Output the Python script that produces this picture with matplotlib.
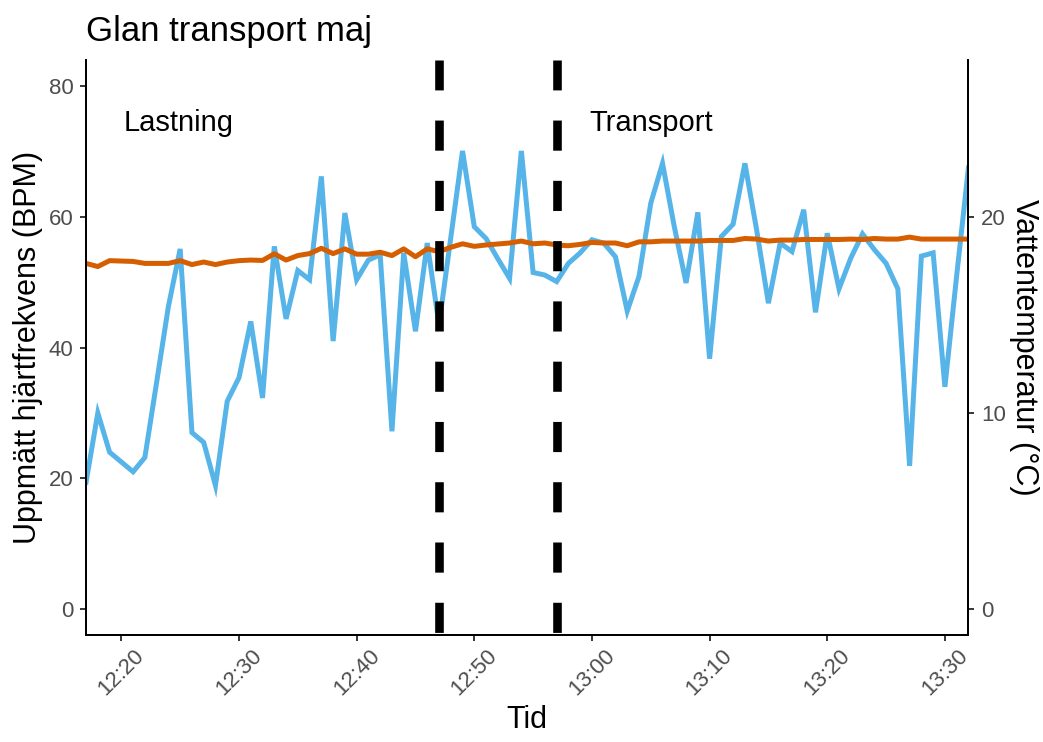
import matplotlib.pyplot as plt
import matplotlib.dates as mdates
import pandas as pd

plt.rcParams['font.family'] = ['Liberation Sans', 'DejaVu Sans']

# mätningar varje minut, 12:17 - 13:32
tid = pd.date_range('2021-05-20 12:17', periods=76, freq='min')

puls = [19.4, 30, 24, 22.5, 21, 23.2, 34.7, 46.3, 55.1, 27,
        25.5, 18.9, 31.8, 35.4, 44, 32.3, 55.5, 44.4, 51.8, 50.4,
        66.2, 41, 60.6, 50.4, 53.4, 54.2, 27.2, 54.5, 42.5, 56,
        43.5, 56.8, 70.1, 58.5, 56.7, 53.6, 50.6, 70.1, 51.5, 51.1,
        50.1, 52.9, 54.5, 56.5, 56, 53.9, 45.6, 50.9, 62.1, 68.2,
        58.5, 49.9, 60.7, 38.3, 57, 58.9, 68.2, 58, 46.8, 56,
        54.7, 61.1, 45.4, 57.5, 49, 53.7, 57.4, 55, 52.9, 49,
        21.9, 54, 54.5, 34, 51, 67.5]

temp = [17.63, 17.47, 17.77, 17.75, 17.73, 17.63, 17.63, 17.63, 17.77, 17.57,
        17.70, 17.57, 17.70, 17.77, 17.80, 17.78, 18.12, 17.80, 18.03, 18.13,
        18.40, 18.13, 18.37, 18.10, 18.10, 18.20, 18.03, 18.37, 17.97, 18.37,
        18.23, 18.45, 18.63, 18.50, 18.57, 18.62, 18.67, 18.77, 18.63, 18.67,
        18.57, 18.53, 18.60, 18.70, 18.67, 18.67, 18.53, 18.73, 18.73, 18.77,
        18.77, 18.77, 18.77, 18.80, 18.80, 18.80, 18.90, 18.87, 18.77, 18.82,
        18.82, 18.85, 18.85, 18.85, 18.85, 18.87, 18.85, 18.90, 18.87, 18.87,
        18.97, 18.87, 18.87, 18.87, 18.87, 18.87]

skala = 3  # temperatur -> pulsaxel
faser = [pd.Timestamp('2021-05-20 12:47'), pd.Timestamp('2021-05-20 12:57')]

fig = plt.figure(figsize=(10.43, 7.42), dpi=100)
ax = fig.add_axes([0.0825, 0.144, 0.846, 0.775])

ax.plot(tid, puls, color='#56B4E9', lw=3.6, solid_joinstyle='miter')
ax.plot(tid, [t * skala for t in temp], color='#D55E00', lw=3.6)
for f in faser:
    ax.axvline(f, color='black', lw=6.2, linestyle=(6.7, (3.5, 3.5)))

ax.text(pd.Timestamp('2021-05-20 12:24:50'), 74.3, 'Lastning', fontsize=21,
        ha='center', va='center')
ax.text(pd.Timestamp('2021-05-20 13:05'), 74.3, 'Transport', fontsize=21,
        ha='center', va='center')

ax.set_xlim(tid[0], tid[-1])
ax.set_ylim(-4, 84)
ax.set_yticks([0, 20, 40, 60, 80])
ax.xaxis.set_major_locator(mdates.MinuteLocator(byminute=[0, 10, 20, 30, 40, 50]))
ax.xaxis.set_major_formatter(mdates.DateFormatter('%H:%M'))
plt.setp(ax.get_xticklabels(), rotation=45)

ax2 = ax.twinx()
ax2.set_ylim(-4 / skala, 84 / skala)
ax2.set_yticks([0, 10, 20])

for a in (ax, ax2):
    for s in a.spines.values():
        s.set_linewidth(1.3)
    a.tick_params(length=4, width=1.1, labelsize=16, labelcolor='#4D4D4D',
                  pad=5)
ax.tick_params(axis='x', pad=3)
ax.spines['top'].set_visible(False)
ax2.spines['top'].set_visible(False)

ax.set_xlabel('Tid', fontsize=22, labelpad=4)
ax.set_ylabel('Uppmätt hjärtfrekvens (BPM)', fontsize=22, labelpad=4)
ax2.set_ylabel('Vattentemperatur (°C)', fontsize=22, rotation=270,
               labelpad=24)
ax.set_title('Glan transport maj', fontsize=25, loc='left', pad=14)

plt.savefig('out.png', dpi=100)
